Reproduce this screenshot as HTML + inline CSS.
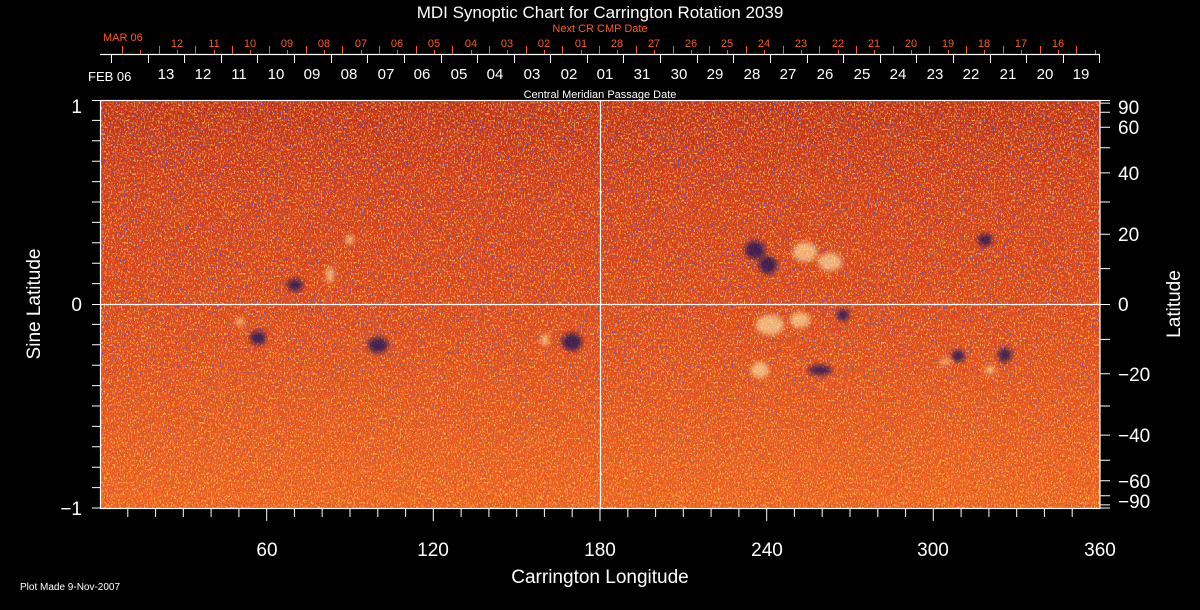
<!DOCTYPE html>
<html><head><meta charset="utf-8"><style>
html,body{margin:0;padding:0;background:#000;}
svg{display:block}
text{font-family:"Liberation Sans",sans-serif;}
</style></head><body>
<svg width="1200" height="610" viewBox="0 0 1200 610" xmlns="http://www.w3.org/2000/svg">
<defs>
<linearGradient id="bg" x1="0" y1="0" x2="0" y2="1">
<stop offset="0" stop-color="#c03010"/>
<stop offset="0.2" stop-color="#d43c14"/>
<stop offset="0.5" stop-color="#e04816"/>
<stop offset="0.75" stop-color="#ec5818"/>
<stop offset="1" stop-color="#f6681c"/>
</linearGradient>
<filter id="yel" x="0" y="0" width="1" height="1">
<feTurbulence type="fractalNoise" baseFrequency="0.7 0.45" numOctaves="2" seed="3"/>
<feColorMatrix type="matrix" values="0 0 0 0 1  0 0 0 0 0.66  0 0 0 0 0.1  1.6 0 0 0 -0.45"/>
<feComponentTransfer><feFuncA type="discrete" tableValues="0 0 0.85 1"/></feComponentTransfer>
</filter>
<filter id="red" x="0" y="0" width="1" height="1">
<feTurbulence type="fractalNoise" baseFrequency="0.6 0.4" numOctaves="2" seed="9"/>
<feColorMatrix type="matrix" values="0 0 0 0 0.65  0 0 0 0 0.08  0 0 0 0 0.04  1.6 0 0 0 -0.4"/>
<feComponentTransfer><feFuncA type="discrete" tableValues="0 0 0.9 1"/></feComponentTransfer>
</filter>
<filter id="blu" x="0" y="0" width="1" height="1">
<feTurbulence type="fractalNoise" baseFrequency="0.5 0.35" numOctaves="2" seed="17"/>
<feColorMatrix type="matrix" values="0 0 0 0 0.08  0 0 0 0 0.08  0 0 0 0 0.6  2 0 0 0 -0.75"/>
<feComponentTransfer><feFuncA type="discrete" tableValues="0 0 0 0 0.8 1"/></feComponentTransfer>
</filter>
<linearGradient id="bfade" x1="0" y1="0" x2="0" y2="1">
<stop offset="0" stop-color="#fff"/><stop offset="0.6" stop-color="#ddd"/><stop offset="1" stop-color="#333"/>
</linearGradient>
<mask id="bm"><rect x="100" y="100" width="1000" height="408" fill="url(#bfade)"/></mask>
<filter id="blur"><feGaussianBlur stdDeviation="2.5"/></filter>
</defs>
<rect x="100" y="100" width="1000" height="408" fill="url(#bg)"/>
<rect x="100" y="100" width="1000" height="408" filter="url(#yel)" opacity="0.8"/>
<rect x="100" y="100" width="1000" height="408" filter="url(#red)" opacity="0.75"/>
<rect x="100" y="100" width="1000" height="408" filter="url(#blu)" mask="url(#bm)"/>
<g filter="url(#blur)">
<g fill="#0c0c60" opacity="0.75">
<ellipse cx="755" cy="250" rx="10" ry="9"/><ellipse cx="768" cy="265" rx="9" ry="9"/>
<ellipse cx="295" cy="285" rx="8" ry="6"/>
<ellipse cx="258" cy="338" rx="8" ry="7"/>
<ellipse cx="378" cy="345" rx="10" ry="8"/>
<ellipse cx="572" cy="342" rx="10" ry="9"/>
<ellipse cx="958" cy="356" rx="7" ry="6"/>
<ellipse cx="1005" cy="355" rx="7" ry="7"/>
<ellipse cx="843" cy="315" rx="6" ry="6"/>
<ellipse cx="985" cy="240" rx="7" ry="6"/>
<ellipse cx="820" cy="370" rx="12" ry="5"/>
</g>
<g fill="#fff0b0" opacity="0.6">
<ellipse cx="805" cy="252" rx="12" ry="10"/><ellipse cx="830" cy="262" rx="12" ry="9"/>
<ellipse cx="330" cy="275" rx="4" ry="8"/>
<ellipse cx="770" cy="325" rx="14" ry="10"/><ellipse cx="800" cy="320" rx="10" ry="8"/>
<ellipse cx="760" cy="370" rx="9" ry="8"/>
<ellipse cx="990" cy="370" rx="5" ry="4"/>
<ellipse cx="945" cy="362" rx="5" ry="3"/>
<ellipse cx="240" cy="322" rx="4" ry="4"/>
<ellipse cx="545" cy="340" rx="4" ry="6"/>
<ellipse cx="350" cy="240" rx="4" ry="5"/>
</g>
</g>
<g stroke="#fff" stroke-width="1.2" fill="none">
<rect x="100.5" y="100.5" width="999.5" height="408"/>
<line x1="600.5" y1="100" x2="600.5" y2="508"/>
<line x1="100" y1="304.5" x2="1100" y2="304.5"/>
<line x1="100" y1="54.5" x2="1100" y2="54.5"/>
</g>
<path stroke="#fff" stroke-width="1" fill="none" d="M111.5 55V63M148.5 55V63M184.5 55V63M221.5 55V63M257.5 55V63M294.5 55V63M331.5 55V63M367.5 55V63M404.5 55V63M441.5 55V63M477.5 55V63M514.5 55V63M550.5 55V63M587.5 55V63M623.5 55V63M660.5 55V63M697.5 55V63M733.5 55V63M770.5 55V63M807.5 55V63M843.5 55V63M880.5 55V63M916.5 55V63M953.5 55V63M990.5 55V63M1026.5 55V63M1063.5 55V63M1099.5 55V63
M127.8 508V517M155.6 508V517M183.3 508V517M211.1 508V517M238.9 508V517M266.7 508V521M294.4 508V517M322.2 508V517M350 508V517M377.8 508V517M405.6 508V517M433.3 508V521M461.1 508V517M488.9 508V517M516.7 508V517M544.4 508V517M572.2 508V517M600 508V521M627.8 508V517M655.6 508V517M683.3 508V517M711.1 508V517M738.9 508V517M766.7 508V521M794.4 508V517M822.2 508V517M850 508V517M877.8 508V517M905.6 508V517M933.3 508V521M961.1 508V517M988.9 508V517M1016.7 508V517M1044.4 508V517M1072.2 508V517
M92 100.5H100M92 120.4H100M92 140.8H100M92 161.2H100M92 181.6H100M92 202H100M92 222.4H100M92 242.8H100M92 263.2H100M92 283.6H100M92 304.5H100M92 324.4H100M92 344.8H100M92 365.2H100M92 385.6H100M92 406H100M92 426.4H100M92 446.8H100M92 467.2H100M92 487.6H100M92 508H100
M1100 100.5H1110M1100 103.1H1110M1100 112.3H1110M1100 127.3H1110M1100 147.7H1110M1100 172.9H1110M1100 202H1110M1100 234.2H1110M1100 268.6H1110M1100 304.5H1110M1100 339.4H1110M1100 373.8H1110M1100 406H1110M1100 435.1H1110M1100 460.3H1110M1100 480.7H1110M1100 495.7H1110M1100 504.9H1110M1100 508H1110"/>
<path stroke="#ff5a1a" stroke-width="1" fill="none" d="M122.5 46V54M159.5 46V54M195.5 46V54M232.5 46V54M269.5 46V54M306.5 46V54M342.5 46V54M379.5 46V54M416.5 46V54M452.5 46V54M489.5 46V54M526.5 46V54M562.5 46V54M599.5 46V54M636.5 46V54M673.5 46V54M709.5 46V54M746.5 46V54M783.5 46V54M819.5 46V54M856.5 46V54M893.5 46V54M929.5 46V54M966.5 46V54M1003.5 46V54M1040.5 46V54M1076.5 46V54
M140.5 50V54M177.5 50V54M214.5 50V54M250.5 50V54M287.5 50V54M324.5 50V54M361.5 50V54M397.5 50V54M434.5 50V54M471.5 50V54M507.5 50V54M544.5 50V54M581.5 50V54M617.5 50V54M654.5 50V54M691.5 50V54M727.5 50V54M764.5 50V54M801.5 50V54M838.5 50V54M874.5 50V54M911.5 50V54M948.5 50V54M984.5 50V54M1021.5 50V54M1058.5 50V54M1095.5 50V54"/>
<g fill="#fff" font-size="19">
<text x="600" y="18" text-anchor="middle" font-size="17">MDI Synoptic Chart for Carrington Rotation 2039</text>
<text x="600" y="98" text-anchor="middle" font-size="11">Central Meridian Passage Date</text>
<text x="88" y="81" font-size="13">FEB 06</text>
<text x="82" y="113" text-anchor="end">1</text>
<text x="82" y="311" text-anchor="end">0</text>
<text x="82" y="515" text-anchor="end">−1</text>
<text transform="translate(40,304) rotate(-90)" text-anchor="middle">Sine Latitude</text>
<text transform="translate(1180,304) rotate(-90)" text-anchor="middle">Latitude</text>
<text x="600" y="583" text-anchor="middle">Carrington Longitude</text>
<text x="267" y="556" text-anchor="middle">60</text>
<text x="433" y="556" text-anchor="middle">120</text>
<text x="600" y="556" text-anchor="middle">180</text>
<text x="767" y="556" text-anchor="middle">240</text>
<text x="933" y="556" text-anchor="middle">300</text>
<text x="1100" y="556" text-anchor="middle">360</text>
<text x="20" y="590" font-size="10">Plot Made  9-Nov-2007</text>
<g text-anchor="start">
<text x="1118" y="114">90</text><text x="1118" y="134">60</text><text x="1118" y="180">40</text><text x="1118" y="241">20</text><text x="1118" y="311">0</text><text x="1118" y="381">−20</text><text x="1118" y="442">−40</text><text x="1118" y="488">−60</text><text x="1118" y="508">−90</text>
</g>
<g font-size="15" text-anchor="middle">
<text x="166" y="79">13</text><text x="203" y="79">12</text><text x="239" y="79">11</text><text x="276" y="79">10</text><text x="312" y="79">09</text><text x="349" y="79">08</text><text x="386" y="79">07</text><text x="422" y="79">06</text><text x="459" y="79">05</text><text x="495" y="79">04</text><text x="532" y="79">03</text><text x="569" y="79">02</text><text x="605" y="79">01</text><text x="642" y="79">31</text><text x="679" y="79">30</text><text x="715" y="79">29</text><text x="752" y="79">28</text><text x="788" y="79">27</text><text x="825" y="79">26</text><text x="862" y="79">25</text><text x="898" y="79">24</text><text x="935" y="79">23</text><text x="971" y="79">22</text><text x="1008" y="79">21</text><text x="1045" y="79">20</text><text x="1081" y="79">19</text>
</g>
</g>
<g fill="#ff5a1a" font-size="11">
<text x="600" y="32" text-anchor="middle">Next CR CMP Date</text>
<text x="103" y="41">MAR 06</text>
<g text-anchor="middle">
<text x="177" y="47">12</text><text x="214" y="47">11</text><text x="250" y="47">10</text><text x="287" y="47">09</text><text x="324" y="47">08</text><text x="361" y="47">07</text><text x="397" y="47">06</text><text x="434" y="47">05</text><text x="471" y="47">04</text><text x="507" y="47">03</text><text x="544" y="47">02</text><text x="581" y="47">01</text><text x="617" y="47">28</text><text x="654" y="47">27</text><text x="691" y="47">26</text><text x="727" y="47">25</text><text x="764" y="47">24</text><text x="801" y="47">23</text><text x="838" y="47">22</text><text x="874" y="47">21</text><text x="911" y="47">20</text><text x="948" y="47">19</text><text x="984" y="47">18</text><text x="1021" y="47">17</text><text x="1058" y="47">16</text>
</g>
</g>
</svg>
</body></html>
